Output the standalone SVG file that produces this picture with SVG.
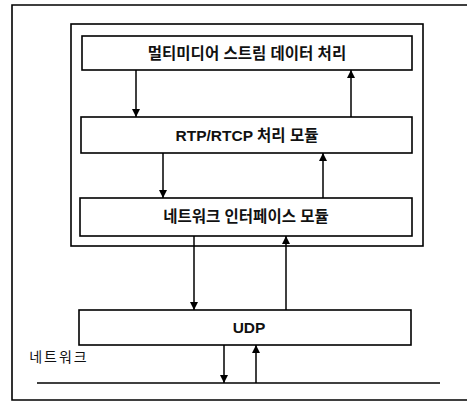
<svg xmlns="http://www.w3.org/2000/svg" width="467" height="405" viewBox="0 0 467 405">
<style>
.box{fill:#fff;stroke:#000;stroke-width:1.6}
.frame{fill:none;stroke:#000;stroke-width:1.6}
.t{font-family:"Liberation Sans","Noto Sans CJK KR",sans-serif;font-size:15.5px;font-weight:bold;text-anchor:middle;fill:#111}
.c{stroke:#000;stroke-width:1.5;fill:none}
</style>
<defs>
<marker id="ah" viewBox="0 0 10 10" refX="10" refY="5" markerWidth="8" markerHeight="8" markerUnits="userSpaceOnUse" orient="auto">
<path d="M0,0 L10,5 L0,10 z" fill="#000"/>
</marker>
</defs>
<rect width="467" height="405" fill="#fff"/>
<path class="frame" d="M467,5 H12 V400 H467"/>
<rect class="frame" x="71" y="24" width="352" height="222"/>
<g id="n1"><rect class="box" x="82" y="36" width="330" height="34"/><text class="t" x="247" y="59">멀티미디어 스트림 데이터 처리</text></g>
<g id="n2"><rect class="box" x="81" y="117" width="331" height="36"/><text class="t" x="247" y="141">RTP/RTCP 처리 모듈</text></g>
<g id="n3"><rect class="box" x="80" y="198" width="332" height="38"/><text class="t" x="246" y="222">네트워크 인터페이스 모듈</text></g>
<g id="n4"><rect class="box" x="79" y="310" width="332" height="35"/><text class="t" x="249" y="333">UDP</text></g>
<g id="n5"><text class="t" x="59" y="362" style="font-weight:normal;font-size:14px;letter-spacing:2px">네트워크</text><line class="c" x1="37" y1="383" x2="440" y2="383"/></g>
<g id="connectors">
<line class="c" x1="136" y1="70" x2="136" y2="117" marker-end="url(#ah)"/>
<line class="c" x1="351" y1="117" x2="351" y2="70" marker-end="url(#ah)"/>
<line class="c" x1="163" y1="153" x2="163" y2="198" marker-end="url(#ah)"/>
<line class="c" x1="323" y1="198" x2="323" y2="153" marker-end="url(#ah)"/>
<line class="c" x1="194" y1="236" x2="194" y2="310" marker-end="url(#ah)"/>
<line class="c" x1="286" y1="310" x2="286" y2="236" marker-end="url(#ah)"/>
<line class="c" x1="224" y1="345" x2="224" y2="383" marker-end="url(#ah)"/>
<line class="c" x1="256" y1="383" x2="256" y2="345" marker-end="url(#ah)"/>
</g>
</svg>
